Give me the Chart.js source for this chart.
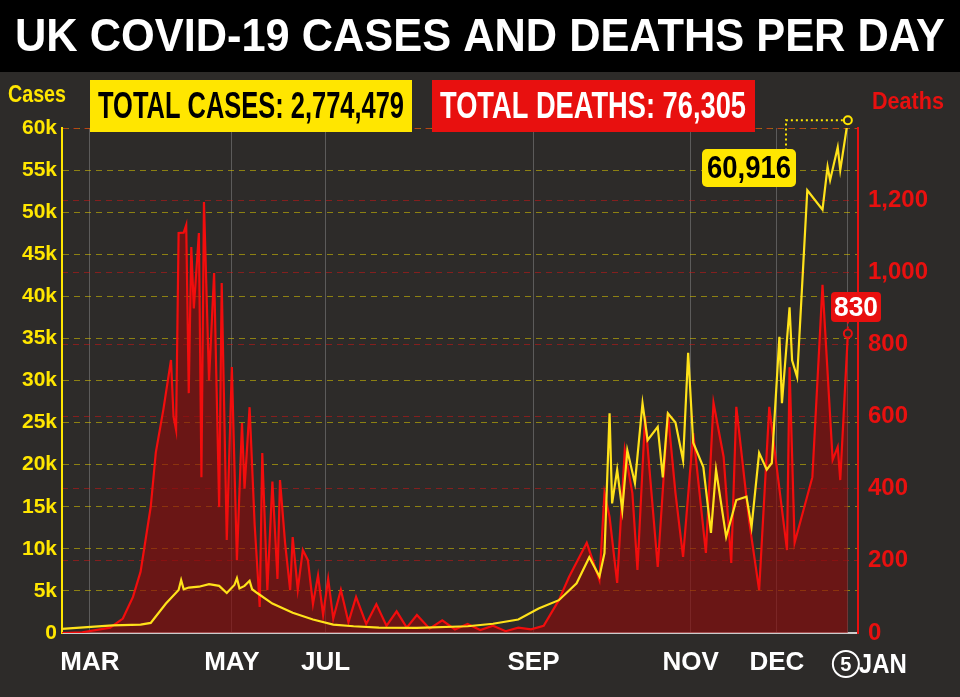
<!DOCTYPE html>
<html><head><meta charset="utf-8">
<script src="https://cdn.jsdelivr.net/npm/chart.js@4"></script>
<style>html,body{margin:0;padding:0;background:#2d2b29;}#w{width:960px;height:697px;position:relative}</style>
</head><body><div id="w"><canvas id="c" width="960" height="697"></canvas></div>
<script>
const monthTicks = [11, 67, 104, 186, 248, 282, 310];
const monthLabels = ['MAR', 'MAY', 'JUL', 'SEP', 'NOV', 'DEC', ''];
const caseDays = [0,10,20,31,35,41,46,47,48,50,54,58,62,65,68,69,70,72,74,75,77,83,91,99,107,115,125,140,160,170,180,188,196,203,208,212,214,216,217,219,221,223,226,229,231,235,237,239,242,245,247,249,253,256,258,262,266,270,272,275,278,280,283,284,287,288,290,294,300,302,303,306,307,310];
const caseValues = [500,700,900,1000,1200,3500,5100,6300,5200,5400,5500,5800,5600,4750,5700,6500,5300,5600,6200,5200,4750,3500,2400,1600,1000,800,650,600,800,1100,1600,2900,3900,5900,9000,6700,9500,26100,15400,19400,14600,21700,17800,27300,22900,24500,18500,26100,25000,20500,33300,22600,19700,11900,19400,11400,15800,16200,12600,21400,19400,20200,35200,27300,38700,32400,30400,52600,50300,55400,53800,57700,55000,60916];
const deathDays = [0,8,15,19,24,28,31,33,35,37,40,43,44,45,46,48,49,50,51,52,54,55,56,58,60,62,63,65,67,69,71,72,74,76,78,79,81,83,85,86,88,90,91,93,95,97,99,101,103,105,107,110,113,116,120,124,128,132,136,140,145,150,155,160,165,170,175,180,185,190,196,200,207,212,214,216,219,222,225,227,230,235,239,242,245,249,254,257,261,264,266,271,275,279,286,287,289,296,300,304,306,307,310];
const deathValues = [0,2,10,15,40,100,170,260,350,500,620,757,600,563,1109,1110,1131,665,1070,900,1109,432,1195,700,998,349,970,258,737,202,582,400,626,300,72,499,119,420,150,424,250,119,266,120,230,202,80,160,50,150,40,120,30,100,25,80,20,60,15,50,12,35,10,25,8,20,5,15,10,20,91,155,250,147,388,322,139,507,388,175,599,183,610,388,211,554,222,638,488,194,627,313,119,627,230,737,250,432,965,480,516,424,830];
const totalCases = '2,774,479', totalDeaths = '76,305';

const F = '"Liberation Sans",Arial,sans-serif';
const pts = (d, v) => d.map((x, i) => ({x, y: v[i]}));

const deco = {
  id: 'deco',
  beforeDraw(ch) {
    const c = ch.ctx;
    c.save();
    c.fillStyle = '#2d2b29'; c.fillRect(0, 0, 960, 697);
    c.fillStyle = '#000'; c.fillRect(0, 0, 960, 72);
    c.restore();
  },
  afterDraw(ch) {
    const c = ch.ctx, x = ch.scales.x, yl = ch.scales.y, yr = ch.scales.yR;
    c.save();
    c.font = 'bold 46px ' + F; c.fillStyle = '#fff'; c.textAlign = 'center'; c.textBaseline = 'middle';
    c.fillText('UK COVID-19 CASES AND DEATHS PER DAY', 480, 38, 930);
    c.fillStyle = '#ffe600'; c.fillRect(90, 80, 322, 52);
    c.fillStyle = '#e8100f'; c.fillRect(432, 80, 323, 52);
    c.font = 'bold 36px ' + F;
    c.fillStyle = '#000'; c.fillText('TOTAL CASES: ' + totalCases, 251, 108, 306);
    c.fillStyle = '#fff'; c.fillText('TOTAL DEATHS: ' + totalDeaths, 593, 108, 306);
    c.font = 'bold 24px ' + F;
    c.fillStyle = '#ffe600'; c.textAlign = 'left'; c.fillText('Cases', 8, 95, 58);
    c.fillStyle = '#e8100f'; c.textAlign = 'right'; c.fillText('Deaths', 944, 102, 72);
    const lx = x.getPixelForValue(310);
    const cy = yl.getPixelForValue(caseValues[caseValues.length - 1]);
    const dy = yr.getPixelForValue(deathValues[deathValues.length - 1]);
    c.setLineDash([2, 3]); c.lineWidth = 2; c.strokeStyle = '#ffe600';
    c.beginPath(); c.moveTo(lx, cy); c.lineTo(786, cy); c.lineTo(786, 155); c.stroke();
    c.strokeStyle = '#e8100f'; c.beginPath(); c.moveTo(lx, dy); c.lineTo(lx, 318); c.stroke();
    c.setLineDash([]);
    c.lineWidth = 2; c.fillStyle = '#2d2b29';
    c.strokeStyle = '#ffe600'; c.beginPath(); c.arc(lx, cy, 4, 0, 7); c.fill(); c.stroke();
    c.strokeStyle = '#e8100f'; c.beginPath(); c.arc(lx, dy, 4, 0, 7); c.fill(); c.stroke();
    c.fillStyle = '#ffe600'; c.beginPath(); c.roundRect(702, 149, 94, 38, 5); c.fill();
    c.fillStyle = '#000'; c.textAlign = 'center'; c.font = 'bold 32px ' + F; c.fillText('60,916', 749, 169, 84);
    c.fillStyle = '#e8100f'; c.beginPath(); c.roundRect(831, 292, 50, 30, 4); c.fill();
    c.fillStyle = '#fff'; c.font = 'bold 28px ' + F; c.fillText('830', 856, 308, 44);
    c.strokeStyle = '#fff'; c.lineWidth = 2; c.beginPath(); c.arc(lx - 2, 664, 13, 0, 7); c.stroke();
    c.fillStyle = '#fff'; c.font = 'bold 20px ' + F; c.fillText('5', lx - 2, 665);
    c.font = 'bold 28px ' + F; c.fillText('JAN', lx + 35, 665, 48);
    c.restore();
  }
};

new Chart(document.getElementById('c'), {
  type: 'line',
  data: { datasets: [
    { label: 'Cases', data: pts(caseDays, caseValues), yAxisID: 'y', borderColor: '#ffe21a', borderWidth: 2.2, pointRadius: 0, tension: 0, fill: false, order: 0 },
    { label: 'Deaths', data: pts(deathDays, deathValues), yAxisID: 'yR', borderColor: '#f20d0d', borderWidth: 2.2, pointRadius: 0, tension: 0, fill: 'origin', backgroundColor: 'rgba(140,10,10,0.65)', order: 1 }
  ]},
  options: {
    responsive: false, animation: false,
    layout: { padding: { top: 128, left: 0, right: 0, bottom: 0 } },
    plugins: { legend: { display: false }, tooltip: { enabled: false } },
    scales: {
      x: { type: 'linear', min: 0, max: 314,
        afterBuildTicks: s => { s.ticks = monthTicks.map(v => ({value: v})); },
        afterFit: s => { s.height = 64; },
        ticks: { color: '#fff', font: { family: F, size: 26, weight: 'bold' }, padding: 14,
          callback: (v) => monthLabels[monthTicks.indexOf(v)] ?? '' },
        grid: { color: 'rgba(150,150,150,0.45)', tickLength: 0, lineWidth: 1 },
        border: { color: '#ccc', width: 2, dash: [] }
      },
      y: { position: 'left', min: 0, max: 60000,
        afterFit: s => { s.width = 62; },
        ticks: { stepSize: 5000, color: '#ffe600', font: { family: F, size: 21, weight: 'bold' }, padding: 5,
          callback: v => v === 0 ? '0' : (v / 1000) + 'k' },
        grid: { color: 'rgba(220,200,0,0.55)', tickLength: 0 },
        border: { color: '#ffe600', width: 2, dash: [6, 5] }
      },
      yR: { position: 'right', min: 0, max: 1400,
        afterFit: s => { s.width = 102; },
        ticks: { stepSize: 200, color: '#e8100f', font: { family: F, size: 24, weight: 'bold' }, padding: 10,
          callback: v => v >= 1400 ? '' : v.toLocaleString('en-US') },
        grid: { color: 'rgba(220,20,20,0.5)', tickLength: 0 },
        border: { color: '#e8100f', width: 2, dash: [6, 5] }
      }
    }
  },
  plugins: [deco]
});
</script></body></html>
